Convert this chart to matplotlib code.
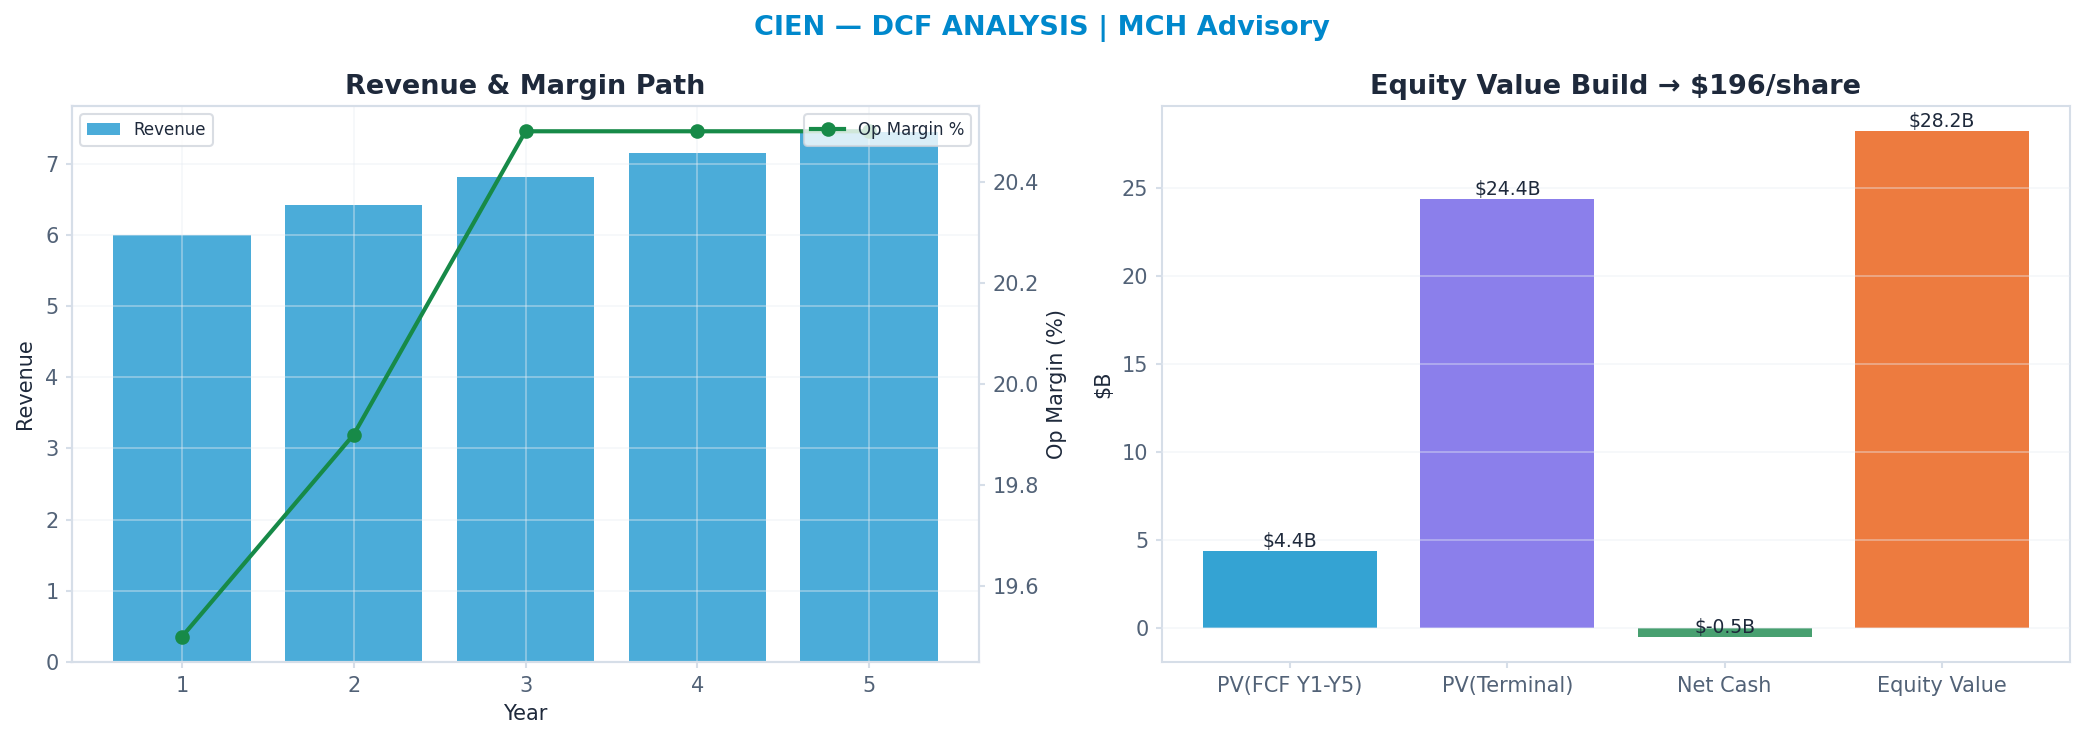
import matplotlib
matplotlib.use("Agg")
import matplotlib.pyplot as plt
import numpy as np

# ---- data ----
years = [1, 2, 3, 4, 5]
revenue = [6.00, 6.42, 6.81, 7.15, 7.44]
op_margin = [19.5, 19.9, 20.5, 20.5, 20.5]

build_labels = ["PV(FCF Y1-Y5)", "PV(Terminal)", "Net Cash", "Equity Value"]
build_values = [4.38, 24.36, -0.52, 28.22]
build_colors = ["#34A3D3", "#8B7FEB", "#48A070", "#ED7B3F"]

suptitle = "CIEN — DCF ANALYSIS | MCH Advisory"
title_left = "Revenue & Margin Path"
title_right = "Equity Value Build → $196/share"

# ---- style ----
plt.rcParams['font.family'] = ['DejaVu Sans']
plt.rcParams['axes.axisbelow'] = False
TICK = "#526277"
DARK = "#1e293b"
SPINE = "#d6dee8"

fig = plt.figure(figsize=(2084 / 150, 742 / 150), dpi=150)
ax1 = fig.add_axes([72 / 2084, 1 - 662 / 742, (979 - 72) / 2084, (662 - 106) / 742])
ax3 = fig.add_axes([1162 / 2084, 1 - 662 / 742, (2070 - 1162) / 2084, (662 - 106) / 742])

def style(ax):
    for s in ax.spines.values():
        s.set_color(SPINE)
        s.set_linewidth(1.0)
    ax.tick_params(colors=SPINE, labelcolor=TICK, labelsize=10, length=3, width=1)

# left: revenue bars + margin line
ax1.bar(years, revenue, width=0.8, color="#4BACD9", label="Revenue", zorder=1)
ax1.grid(True, color="#e8edf3", alpha=0.4, linewidth=0.9, zorder=3)
ax1.set_xticks(years)
ax1.set_xlabel("Year", fontsize=10, color=DARK)
ax1.set_ylabel("Revenue", fontsize=10, color=DARK, labelpad=5)
ax1.set_title(title_left, fontsize=13, fontweight="bold", color=DARK, pad=6)
style(ax1)

ax2 = ax1.twinx()
ax2.plot(years, op_margin, color="#178a48", linewidth=2, marker="o", markersize=6,
         label="Op Margin %")
ax2.set_ylabel("Op Margin (%)", fontsize=10, color=DARK)
ax2.grid(False)
style(ax2)

l1 = ax1.legend(loc="upper left", fontsize=8, frameon=True, fancybox=True,
                edgecolor="#d0d5dc", framealpha=0.8, labelcolor=DARK)
l2 = ax2.legend(loc="upper right", fontsize=8, frameon=True, fancybox=True,
                edgecolor="#d0d5dc", framealpha=0.8, labelcolor=DARK)

# right: equity build
x = np.arange(len(build_labels))
ax3.bar(x, build_values, width=0.8, color=build_colors, zorder=1)
ax3.grid(True, axis="y", color="#e8edf3", alpha=0.4, linewidth=0.9, zorder=3)
ax3.set_xticks(x)
ax3.set_xticklabels(build_labels)
for xi, v in zip(x, build_values):
    ax3.text(xi, v, f"${v:.1f}B", ha="center", va="bottom", fontsize=9, color=DARK, zorder=4)
ax3.set_ylabel("$B", fontsize=10, color=DARK)
ax3.set_title(title_right, fontsize=13, fontweight="bold", color=DARK, pad=6)
style(ax3)

fig.suptitle(suptitle, fontsize=13, fontweight="bold", color="#0088cc", y=0.98)

fig.savefig("out.png", dpi=150)
